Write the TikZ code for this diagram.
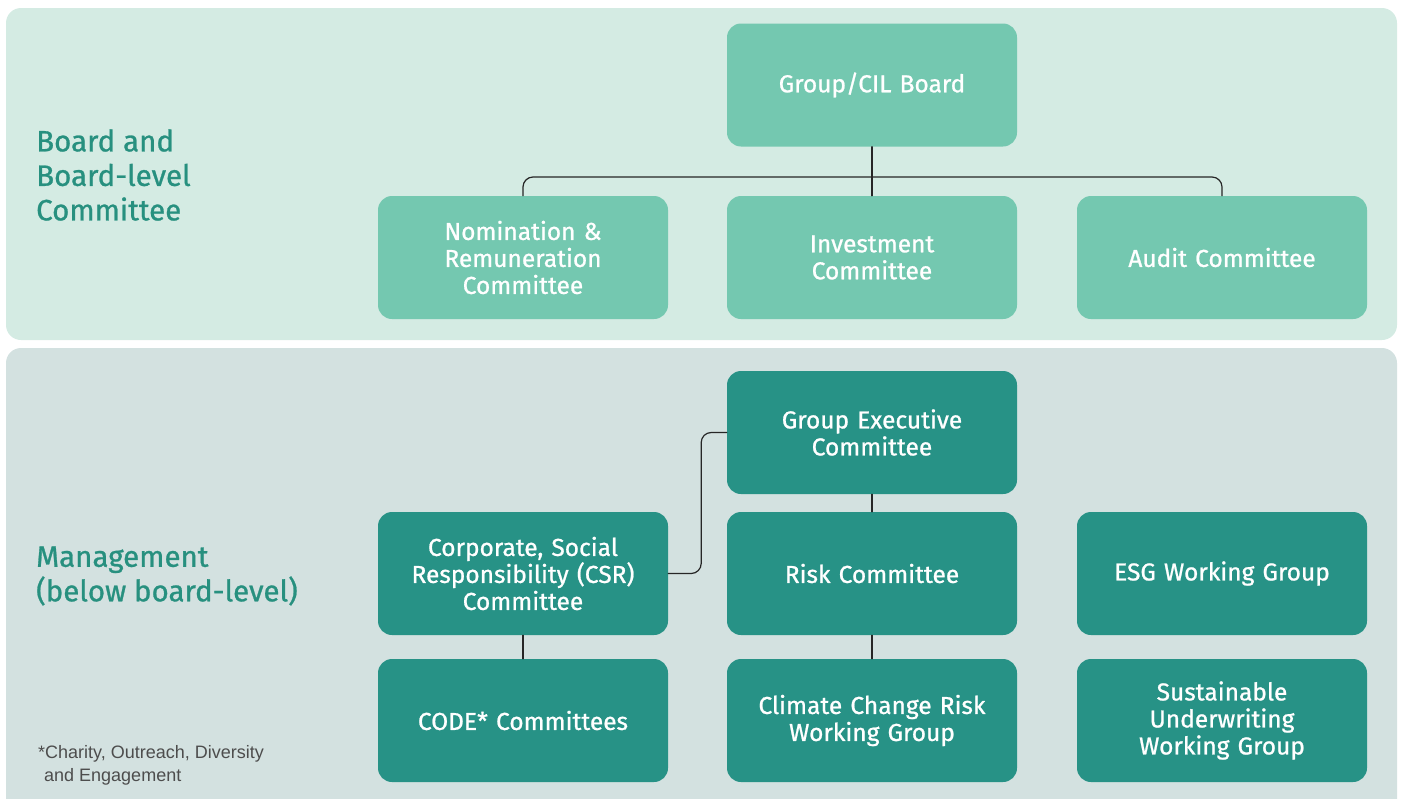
\documentclass[tikz,border=0pt]{standalone}
\usepackage{fontspec}
\setmainfont{Fira Sans}[FakeBold=0.9]
\setsansfont{Liberation Sans}
\usetikzlibrary{positioning}
\definecolor{boardbg}{HTML}{D4EBE3}
\definecolor{mgmtbg}{HTML}{D3E1E0}
\definecolor{boardfill}{HTML}{74C8B0}
\definecolor{mgmtfill}{HTML}{279286}
\definecolor{tiertext}{HTML}{27907F}
\definecolor{notegray}{HTML}{4D4D4D}
\tikzset{
  unit/.style={rounded corners=14pt, minimum width=290pt, minimum height=123pt,
    text width=280pt, align=center, inner sep=0pt, text=white,
    font=\fontsize{24.5}{27}\selectfont},
  boardunit/.style={unit, fill=boardfill},
  mgmtunit/.style={unit, fill=mgmtfill},
  link/.style={line width=1.2pt, draw=black!85, rounded corners=10pt},
  panel/.style={rounded corners=15pt},
  tier/.style={anchor=west, align=left, text=tiertext, inner sep=0pt,
    font=\fontsize{29.5}{34.5}\selectfont},
}
\begin{document}
\begin{tikzpicture}[line cap=round,line join=round,x=1pt,y=-1pt]
\useasboundingbox (0,0) rectangle (1403,798);
\clip (0,0) rectangle (1403,798);
% background bands
\fill[panel,boardbg] (6,8) rectangle (1397,340);
\fill[panel,mgmtbg] (6,348) rectangle (1397,820);
\node[tier] (boardtier) at (36,175) {Board and\\Board-level\\Committee};
\node[tier] (mgmttier) at (36,576) {Management\\(below board-level)};
\node[anchor=north west, align=left, inner sep=0pt, text=notegray,
  font=\sffamily\fontsize{18}{23}\selectfont] (note) at (38,745)
  {*Charity, Outreach, Diversity\\\hspace*{6pt}and Engagement};
% board level
\node[boardunit] (board) at (872,85) {Group/CIL Board};
\node[boardunit] (nomrem) at (523,257.5) {Nomination \&\\Remuneration\\Committee};
\node[boardunit] (invest) at (872,257.5) {Investment\\Committee};
\node[boardunit] (audit) at (1222,257.5) {Audit Committee};
% management
\node[mgmtunit] (exec) at (872,432.5) {Group Executive\\Committee};
\node[mgmtunit] (csr) at (523,573.5) {Corporate, Social\\Responsibility (CSR)\\Committee};
\node[mgmtunit] (risk) at (872,573.5) {Risk Committee};
\node[mgmtunit] (esg) at (1222,573.5) {ESG Working Group};
\node[mgmtunit] (code) at (523,720.5) {CODE* Committees};
\node[mgmtunit] (climate) at (872,720.5) {Climate Change Risk\\Working Group};
\node[mgmtunit] (suw) at (1222,720.5) {Sustainable\\Underwriting\\Working Group};
% connectors
\coordinate (split) at (872,177);
\draw[link] (board.south) -- (invest.north);
\draw[link] (nomrem.north) |- (split) -| (audit.north);
\draw[link] (csr.east) -- ++(33,0) |- (exec.west);
\draw[link] (exec.south) -- (risk.north);
\draw[link] (risk.south) -- (climate.north);
\draw[link] (csr.south) -- (code.north);
\end{tikzpicture}
\end{document}
